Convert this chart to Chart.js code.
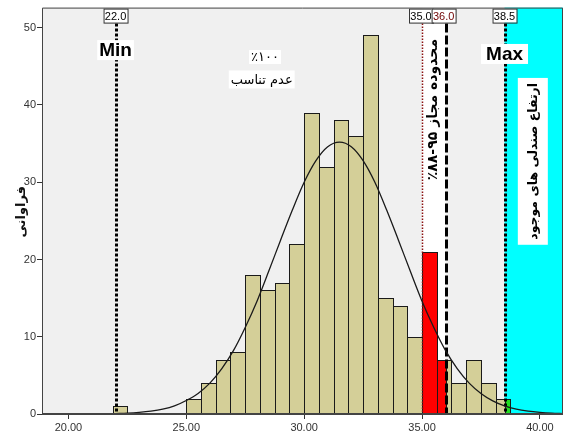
<!DOCTYPE html>
<html>
<head>
<meta charset="utf-8">
<script src="https://cdn.jsdelivr.net/npm/chart.js@4.4.1/dist/chart.umd.min.js"></script>
<style>
  html, body { margin: 0; padding: 0; background: #fff; }
</style>
</head>
<body>
<canvas id="hist" width="565" height="438"></canvas>
<script>
// histogram: bins of 0.625, start of each bin and its count
var binWidth = 0.625;
var binStarts = [21.875, 25.0, 25.625, 26.25, 26.875, 27.5, 28.125, 28.75, 29.375, 30.0, 30.625,
                 31.25, 31.875, 32.5, 33.125, 33.75, 34.375, 35.0, 35.625, 36.25, 36.875, 37.5, 38.125];
var counts = [1, 2, 4, 7, 8, 18, 16, 17, 22, 39, 32, 38, 36, 49, 15, 14, 10, 21, 7, 4, 7, 4, 2];

// fitted normal curve
var curveX = [22, 22.5, 23, 23.5, 24, 24.5, 25, 25.5, 26, 26.5, 27, 27.5, 28, 28.5, 29, 29.5, 30, 30.5,
              31, 31.5, 32, 32.5, 33, 33.5, 34, 34.5, 35, 35.5, 36, 36.5, 37, 37.5, 38, 38.5, 39, 39.5,
              40, 40.5, 41];
var curveY = [0.05, 0.1, 0.2, 0.36, 0.62, 1.05, 1.75, 2.66, 4.0, 5.85, 8.2, 11.2, 14.6, 18.5, 22.5, 26.4,
              30.0, 32.8, 34.6, 35.2, 34.6, 32.8, 30.0, 26.4, 22.5, 18.5, 14.6, 11.2, 8.2, 5.85, 4.0, 2.66,
              1.7, 1.05, 0.62, 0.36, 0.2, 0.1, 0.05];

var xTickValues = [20, 25, 30, 35, 40];
var xTickLabels = ['20.00', '25.00', '30.00', '35.00', '40.00'];
var yTickValues = [0, 10, 20, 30, 40, 50];

// reference lines
var minValue = 22.0;
var lowLimit = 35.0;
var highLimit = 36.0;
var maxValue = 38.5;

var BEIGE = '#d4cf98';
var RED = '#ff0000';
var GREEN = '#22dd22';
var CYAN = '#00ffff';
var FA = '"DejaVu Sans", sans-serif';
var LAT = '"Liberation Sans", Arial, sans-serif';

function boxText(ctx, text, cx, cy, o) {
    ctx.save();
    ctx.translate(cx, cy);
    if (o.rotate) ctx.rotate(o.rotate);
    ctx.font = o.font;
    ctx.direction = o.rtl ? 'rtl' : 'ltr';
    var w = ctx.measureText(text).width;
    var pad = o.pad || 2, h = o.h;
    if (!o.noFill) {
        ctx.fillStyle = '#fff';
        ctx.fillRect(-w / 2 - pad, -h / 2, w + 2 * pad, h);
    }
    if (o.border) {
        ctx.strokeStyle = o.border;
        ctx.lineWidth = 1;
        ctx.strokeRect(Math.round(-w / 2 - pad) + 0.5, Math.round(-h / 2) + 0.5, Math.round(w + 2 * pad), h);
    }
    ctx.fillStyle = o.color || '#000';
    ctx.textAlign = 'center';
    ctx.textBaseline = 'middle';
    ctx.fillText(text, 0, 1);
    ctx.restore();
}

var histPlugin = {
    id: 'histPlugin',
    beforeDatasetsDraw: function (chart) {
        var ctx = chart.ctx, a = chart.chartArea;
        var x = chart.scales.x, y = chart.scales.y;
        ctx.save();
        // plot background and zones
        ctx.fillStyle = '#f0f0f0';
        ctx.fillRect(a.left, a.top, a.right - a.left, a.bottom - a.top);
        var lx = x.getPixelForValue(lowLimit), hx = x.getPixelForValue(highLimit);
        ctx.fillStyle = '#fff';
        ctx.fillRect(lx, a.top, hx - lx, a.bottom - a.top);
        var mx = x.getPixelForValue(maxValue);
        ctx.fillStyle = CYAN;
        ctx.fillRect(mx, a.top, a.right - mx, a.bottom - a.top);

        // bars, split where a zone boundary crosses a bin
        var cuts = [lowLimit, highLimit, maxValue];
        var base = Math.round(y.getPixelForValue(0));
        ctx.lineWidth = 1;
        ctx.strokeStyle = '#1a1a1a';
        for (var i = 0; i < binStarts.length; i++) {
            var s = binStarts[i], e = s + binWidth;
            var edges = [s];
            cuts.forEach(function (c) { if (c > s && c < e) edges.push(c); });
            edges.push(e);
            var top = Math.round(y.getPixelForValue(counts[i]));
            for (var j = 0; j < edges.length - 1; j++) {
                var mid = (edges[j] + edges[j + 1]) / 2;
                var col = BEIGE;
                if (mid >= lowLimit && mid <= highLimit) col = RED;
                else if (mid >= maxValue) col = GREEN;
                var p0 = Math.round(x.getPixelForValue(edges[j]));
                var p1 = Math.round(x.getPixelForValue(edges[j + 1]));
                ctx.fillStyle = col;
                ctx.fillRect(p0, top, p1 - p0, base - top);
                ctx.strokeRect(p0 + 0.5, top + 0.5, p1 - p0, base - top);
            }
        }

        // the band label sits under the lines
        boxText(ctx, 'محدوده مجاز ۹۵-۸۸٪', x.getPixelForValue(35.45), y.getPixelForValue(39.4),
            { font: 'bold 14px ' + FA, h: 15, pad: 2, rtl: true, noFill: true, rotate: -Math.PI / 2 });

        // reference lines
        var lineTop = a.top + 16;
        function vline(v, color, width, dash) {
            var px = Math.round(x.getPixelForValue(v)) + 0.5;
            ctx.beginPath();
            ctx.setLineDash(dash);
            ctx.strokeStyle = color;
            ctx.lineWidth = width;
            ctx.moveTo(px, lineTop);
            ctx.lineTo(px, base);
            ctx.stroke();
        }
        vline(minValue, '#000', 3, [3, 2]);
        vline(lowLimit, '#8b1010', 1.5, [1.5, 1.5]);
        vline(highLimit, '#000', 3, [9, 3]);
        vline(maxValue, '#000', 3, [3, 2]);
        ctx.restore();
    },
    afterDatasetsDraw: function (chart) {
        var ctx = chart.ctx, a = chart.chartArea;
        var x = chart.scales.x, y = chart.scales.y;
        var X = function (v) { return x.getPixelForValue(v); };
        var Y = function (v) { return y.getPixelForValue(v); };

        // value boxes on top of the lines
        var f11 = '11px ' + LAT;
        boxText(ctx, minValue.toFixed(1), X(minValue), a.top + 8, { font: f11, h: 14, pad: 1.5, border: '#333' });
        boxText(ctx, lowLimit.toFixed(1), X(lowLimit) - 1, a.top + 8, { font: f11, h: 14, pad: 1.5, border: '#333' });
        boxText(ctx, highLimit.toFixed(1), X(highLimit) - 2, a.top + 8, { font: f11, h: 14, pad: 1.5, border: '#333', color: '#700000' });
        boxText(ctx, maxValue.toFixed(1), X(maxValue), a.top + 8, { font: f11, h: 14, pad: 1.5, border: '#333' });

        boxText(ctx, 'Min', X(minValue), Y(47.1), { font: 'bold 19px ' + LAT, h: 20, pad: 2 });
        boxText(ctx, 'Max', X(maxValue), Y(46.6), { font: 'bold 19px ' + LAT, h: 20, pad: 5 });

        boxText(ctx, '٪۱۰۰', X(28.34), Y(46.2), { font: '13px ' + FA, h: 14, pad: 2, rtl: true });
        boxText(ctx, 'عدم تناسب', X(28.2), Y(43.3), { font: '13px ' + FA, h: 18, pad: 2, rtl: true });

        boxText(ctx, 'ارتفاع صندلی های موجود', X(39.7), Y(32.7),
            { font: 'bold 12.5px ' + FA, h: 30, pad: 5, rtl: true, rotate: -Math.PI / 2 });
    },
    afterDraw: function (chart) {
        var ctx = chart.ctx, a = chart.chartArea;
        ctx.save();
        // frame of the plot area
        ctx.strokeStyle = '#444';
        ctx.lineWidth = 1;
        ctx.beginPath();
        ctx.moveTo(a.left + 0.5, a.bottom);
        ctx.lineTo(a.left + 0.5, a.top + 0.5);
        ctx.lineTo(a.right - 0.5, a.top + 0.5);
        ctx.lineTo(a.right - 0.5, a.bottom);
        ctx.stroke();
        ctx.beginPath();
        ctx.lineWidth = 2;
        ctx.moveTo(a.left, a.bottom);
        ctx.lineTo(a.right, a.bottom);
        ctx.stroke();
        // y axis title
        ctx.translate(22, (a.top + a.bottom) / 2 + 1);
        ctx.rotate(-Math.PI / 2);
        ctx.font = 'bold 13px ' + FA;
        ctx.direction = 'rtl';
        ctx.textAlign = 'center';
        ctx.textBaseline = 'middle';
        ctx.fillStyle = '#111';
        ctx.fillText('فراوانی', 0, 0);
        ctx.restore();
    }
};

var curvePoints = curveX.map(function (v, i) { return { x: v, y: curveY[i] }; });

var ctxH = document.getElementById('hist').getContext('2d');
var histChart = new Chart(ctxH, {
    type: 'line',
    data: {
        datasets: [
            {
                data: curvePoints,
                borderColor: '#1a1a1a',
                borderWidth: 1.3,
                pointRadius: 0,
                fill: false,
                cubicInterpolationMode: 'monotone'
            }
        ]
    },
    options: {
        responsive: false,
        animation: false,
        devicePixelRatio: 1,
        layout: { padding: { top: 6, right: 2, left: 0, bottom: 0 } },
        plugins: { legend: { display: false }, tooltip: { enabled: false } },
        scales: {
            x: {
                type: 'linear',
                min: 18.88,
                max: 40.98,
                afterBuildTicks: function (s) { s.ticks = xTickValues.map(function (v) { return { value: v }; }); },
                afterFit: function (s) { s.height = 24; },
                ticks: {
                    autoSkip: false,
                    maxRotation: 0,
                    padding: 2,
                    color: '#333',
                    font: { family: LAT, size: 11 },
                    callback: function (v, i) { return xTickLabels[i]; }
                },
                grid: { drawOnChartArea: false, tickLength: 5, color: '#333' },
                border: { display: false }
            },
            y: {
                min: 0,
                max: 52.6,
                afterBuildTicks: function (s) { s.ticks = yTickValues.map(function (v) { return { value: v }; }); },
                afterFit: function (s) { s.width = 42; },
                ticks: {
                    padding: 1,
                    color: '#333',
                    font: { family: LAT, size: 11 },
                    callback: function (v) { return String(v); }
                },
                grid: { drawOnChartArea: false, tickLength: 5, color: '#333' },
                border: { display: false }
            }
        }
    },
    plugins: [histPlugin]
});
</script>
</body>
</html>
